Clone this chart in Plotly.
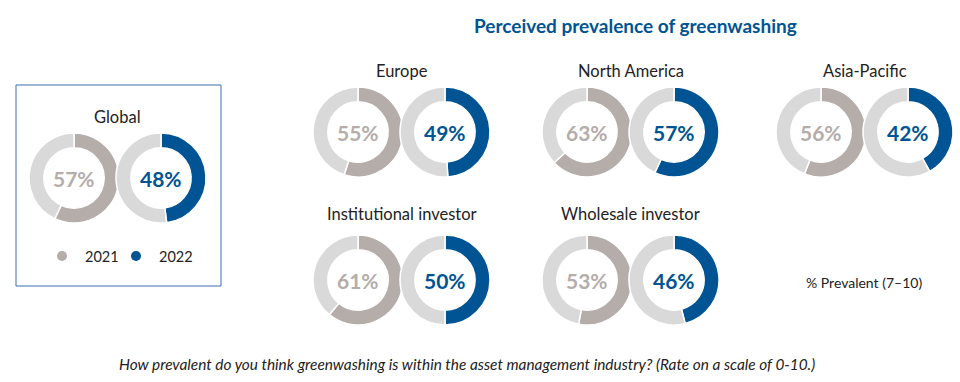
import plotly.graph_objects as go

groups = ["Global", "Europe", "North America", "Asia-Pacific", "Institutional investor", "Wholesale investor"]
v2021 = [57, 55, 63, 56, 61, 53]
v2022 = [48, 49, 57, 42, 50, 46]
years = ["2021", "2022"]

W, H = 960, 382
# layout (pixel centers of the 2021 donut; 2022 donut sits to its right)
centers = [(74, 178), (358, 132), (587, 132), (821, 132), (358, 280), (587, 280)]
title_y = [117, 71, 71, 71, 214, 214]
R = 45
DX = 87

C21 = "#B4ADAA"
C22 = "#005493"
GREY = "#D9D9D9"
FONT = "Lato, 'Open Sans', sans-serif"

fig = go.Figure()

def px_dom(cx, cy, r):
    return dict(x=[(cx - r) / W, (cx + r) / W], y=[1 - (cy + r) / H, 1 - (cy - r) / H])

def ann(x, y, text, size, color="#222222", anchor="center"):
    return dict(x=x / W, y=1 - y / H, xref="paper", yref="paper", text=text,
                showarrow=False, xanchor=anchor, yanchor="middle",
                font=dict(family=FONT, size=size, color=color))

annotations = []
for i, g in enumerate(groups):
    cx, cy = centers[i]
    for j, (vals, col) in enumerate([(v2021, C21), (v2022, C22)]):
        x = cx + j * DX
        v = vals[i]
        fig.add_trace(go.Pie(
            values=[v, 100 - v], labels=[years[j], "Other"],
            marker=dict(colors=[col, GREY], line=dict(color="white", width=1.5)),
            hole=0.67, sort=False, direction="clockwise", rotation=0,
            textinfo="none", showlegend=False, domain=px_dom(x, cy, R),
            hoverinfo="label+percent",
        ))
        annotations.append(ann(x, cy, f"<b>{v}%</b>", 21, col))
    annotations.append(ann(cx + DX / 2, title_y[i], g, 16.5))

annotations += [
    ann(635, 25, "<b>Perceived prevalence of greenwashing</b>", 19, C22),
    ann(864, 282, "% Prevalent (7–10)", 14),
    ann(467, 364, "<i>How prevalent do you think greenwashing is within the asset management industry? (Rate on a scale of 0-10.)</i>", 15.4),
    ann(83, 256, "2021", 14.5, anchor="left"),
    ann(157, 256, "2022", 14.5, anchor="left"),
]

shapes = [
    dict(type="rect", xref="paper", yref="paper", x0=16 / W, x1=221 / W,
         y0=1 - 286 / H, y1=1 - 85 / H, line=dict(color="#3D6FB0", width=1)),
    dict(type="circle", xref="paper", yref="paper", x0=57 / W, x1=67 / W,
         y0=1 - 261 / H, y1=1 - 251 / H, fillcolor=C21, line=dict(width=0)),
    dict(type="circle", xref="paper", yref="paper", x0=131 / W, x1=141 / W,
         y0=1 - 261 / H, y1=1 - 251 / H, fillcolor=C22, line=dict(width=0)),
]

fig.update_layout(
    width=W, height=H, margin=dict(l=0, r=0, t=0, b=0),
    paper_bgcolor="white", plot_bgcolor="white",
    annotations=annotations, shapes=shapes, showlegend=False,
    font=dict(family=FONT),
)

fig.write_html("out.html", config={"displayModeBar": False},
               post_script="document.body.style.margin='0px';")
